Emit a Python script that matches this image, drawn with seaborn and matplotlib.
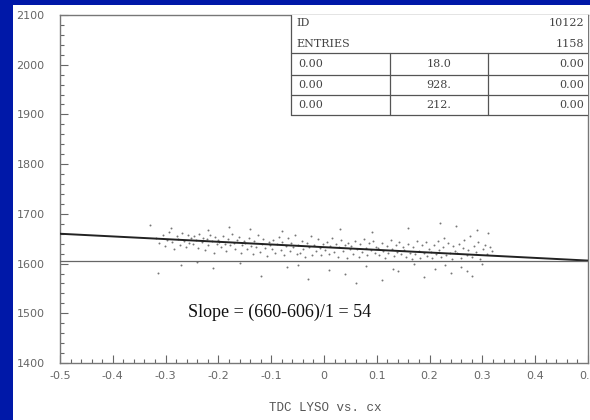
import matplotlib
matplotlib.use("Agg")
import matplotlib.pyplot as plt
from matplotlib.patches import Rectangle
from matplotlib.ticker import MultipleLocator, FixedLocator
import pandas as pd
import seaborn as sns

# Event-by-event hits: TDC LYSO time against cx
hit_x = [
    -0.318, -0.312, -0.305, -0.301, -0.297, -0.293, -0.288, -0.284, -0.279, -0.276, -0.272, -0.268, -0.265, -0.262, -0.258, -0.255, -0.252,
    -0.249, -0.246, -0.243, -0.239, -0.236, -0.232, -0.229, -0.226, -0.222, -0.219, -0.216, -0.212, -0.209, -0.206, -0.203, -0.201,
    -0.198, -0.195, -0.192, -0.188, -0.185, -0.181, -0.178, -0.175, -0.171, -0.168, -0.164, -0.161, -0.158, -0.155, -0.152,
    -0.149, -0.146, -0.142, -0.139, -0.135, -0.132, -0.129, -0.125, -0.122, -0.118, -0.115, -0.112, -0.108, -0.105, -0.102,
    -0.099, -0.096, -0.092, -0.089, -0.086, -0.082, -0.079, -0.075, -0.072, -0.069, -0.065, -0.062, -0.058, -0.055, -0.052,
    -0.049, -0.046, -0.042, -0.039, -0.036, -0.032, -0.029, -0.025, -0.022, -0.019, -0.015, -0.012, -0.008, -0.005, -0.002,
    0.002, 0.005, 0.009, 0.012, 0.015, 0.019, 0.022, 0.026, 0.029, 0.032, 0.036, 0.039, 0.043, 0.046, 0.049,
    0.052, 0.055, 0.059, 0.062, 0.066, 0.069, 0.072, 0.076, 0.079, 0.082, 0.086, 0.089, 0.093, 0.096, 0.099,
    0.102, 0.105, 0.109, 0.112, 0.115, 0.119, 0.122, 0.126, 0.129, 0.132, 0.136, 0.139, 0.142, 0.146, 0.149,
    0.152, 0.155, 0.159, 0.162, 0.166, 0.169, 0.172, 0.176, 0.179, 0.182, 0.186, 0.189, 0.193, 0.196, 0.199,
    0.202, 0.205, 0.208, 0.212, 0.215, 0.218, 0.222, 0.225, 0.228, 0.232, 0.235, 0.238, 0.242, 0.245, 0.248,
    0.252, 0.256, 0.259, 0.263, 0.266, 0.270, 0.273, 0.277, 0.281, 0.284, 0.288, 0.292, 0.296, 0.301, 0.305, 0.309, 0.314, 0.318,
    -0.315, -0.27, -0.21, -0.16, -0.12, -0.07, -0.03, 0.01, 0.04, 0.08, 0.11, 0.14, 0.17, 0.19, 0.21, 0.24, 0.26, 0.28, 0.30, -0.24, -0.05, 0.06, 0.13, 0.23, 0.27,
    -0.33, -0.29, -0.22, -0.14, -0.08, 0.03, 0.09, 0.16, 0.22, 0.25, 0.29, 0.31, -0.18,
]
hit_y = [
    1652, 1641, 1658, 1636, 1647, 1663, 1644, 1629, 1655, 1650, 1638, 1661, 1646, 1633, 1657, 1642, 1651,
    1639, 1656, 1647, 1631, 1660, 1643, 1652, 1627, 1649, 1637, 1658, 1645, 1621, 1653, 1640, 1648,
    1644, 1633, 1655, 1640, 1626, 1650, 1637, 1659, 1642, 1630, 1647, 1653, 1621, 1638, 1645,
    1641, 1629, 1652, 1636, 1619, 1646, 1633, 1657, 1624, 1640, 1649, 1631, 1615, 1644, 1637,
    1630, 1648, 1622, 1639, 1654, 1627, 1643, 1617, 1635, 1651, 1625, 1641, 1633, 1658, 1620,
    1637, 1621, 1646, 1629, 1614, 1642, 1633, 1655, 1618, 1638, 1626, 1649, 1631, 1617, 1640,
    1628, 1644, 1619, 1636, 1652, 1623, 1640, 1614, 1633, 1647, 1625, 1638, 1611, 1642, 1630,
    1636, 1620, 1645, 1629, 1613, 1639, 1624, 1650, 1632, 1617, 1641, 1627, 1646, 1621, 1634,
    1631, 1617, 1642, 1626, 1612, 1636, 1622, 1648, 1629, 1615, 1638, 1624, 1644, 1619, 1633,
    1627, 1614, 1640, 1622, 1610, 1634, 1619, 1646, 1625, 1612, 1637, 1621, 1643, 1616, 1630,
    1624, 1611, 1638, 1619, 1645, 1627, 1613, 1633, 1652, 1617, 1641, 1622, 1609, 1636, 1626,
    1621, 1640, 1612, 1631, 1648, 1618, 1627, 1655, 1614, 1636, 1623, 1644, 1610, 1629, 1638, 1619, 1633, 1625,
    1582, 1597, 1591, 1601, 1575, 1594, 1569, 1588, 1579, 1596, 1566, 1585, 1599, 1572, 1590, 1581, 1593, 1576, 1600, 1603, 1598, 1561, 1589, 1598, 1585,
    1678, 1672, 1668, 1670, 1666, 1669, 1664, 1671, 1682, 1676, 1668, 1662, 1674,
]

# Straight-line fit: 660 at cx=-0.5 down to 606 at cx=+0.5
fit_x = [-0.5, 0.5]
fit_y = [1660, 1606]
base_level = 1606

x_ticks = [-0.5, -0.4, -0.3, -0.2, -0.1, 0.0, 0.1, 0.2, 0.3, 0.4, 0.5]
x_tick_labels = ["-0.5", "-0.4", "-0.3", "-0.2", "-0.1", "0", "0.1", "0.2", "0.3", "0.4", "0.5"]
y_ticks = [1400, 1500, 1600, 1700, 1800, 1900, 2000, 2100]

# Statistics box contents
stat_id = "10122"
stat_entries = "1158"
stat_rows = [("0.00", "18.0", "0.00"),
             ("0.00", "928.", "0.00"),
             ("0.00", "212.", "0.00")]

slope_text = "Slope = (660-606)/1 = 54"
x_title = "TDC LYSO vs. cx"

sns.set_style("ticks")
plt.rcParams["font.family"] = ["DejaVu Sans"]

W, H = 590, 420
fig = plt.figure(figsize=(W / 100, H / 100), dpi=100, facecolor="#0018a8")
fig.add_artist(Rectangle((13 / W, 0), (W - 13) / W, (H - 5) / H,
                         transform=fig.transFigure, facecolor="white",
                         edgecolor="none", zorder=-1))

ax = fig.add_axes([60 / W, 57 / H, 528 / W, 348 / H])
ax.set_facecolor("white")

hits = pd.DataFrame({"cx": hit_x, "tdc": hit_y})
sns.scatterplot(data=hits, x="cx", y="tdc", ax=ax, s=2, color="#555555",
                linewidth=0, alpha=0.8, zorder=2)

fit = pd.DataFrame({"cx": fit_x, "tdc": fit_y})
sns.lineplot(data=fit, x="cx", y="tdc", ax=ax, color="#222222",
             linewidth=1.4, zorder=3)
ax.axhline(base_level, color="#666666", linewidth=0.9, zorder=3)

ax.set_xlabel("")
ax.set_ylabel("")

ax.xaxis.set_major_locator(FixedLocator(x_ticks))
ax.set_xticklabels(x_tick_labels)
ax.xaxis.set_minor_locator(MultipleLocator(0.02))
ax.yaxis.set_major_locator(FixedLocator(y_ticks))
ax.yaxis.set_minor_locator(MultipleLocator(20))
ax.set_xlim(-0.5, 0.5)
ax.set_ylim(1400, 2100)

ax.tick_params(which="both", direction="in", top=False, right=False,
               color="#666666", width=0.8, labelcolor="#666666")
ax.tick_params(which="major", length=6, labelsize=8)
ax.tick_params(which="minor", length=3)
ax.tick_params(axis="y", which="major", pad=11)
ax.tick_params(axis="x", which="major", pad=6)

for sp in ax.spines.values():
    sp.set_color("#777777")
    sp.set_linewidth(1.0)
    sp.set_visible(True)

# Statistics box, drawn in axes fractions
px = lambda x: (x - 60) / 528
py = lambda y: (363 - y) / 348
box_kw = dict(transform=ax.transAxes, color="#555555", linewidth=0.9, zorder=4)
x0, xa, xb, x1 = px(291), px(390), px(488), 1.0
ax.add_patch(Rectangle((x0, py(115)), x1 - x0, 1 - py(115),
                       transform=ax.transAxes, facecolor="white",
                       edgecolor="none", zorder=3.5))
ax.plot([x0, x0], [py(115), 1], **box_kw)
for yy in (53, 75, 95, 115):
    ax.plot([x0, x1], [py(yy), py(yy)], **box_kw)
for xx in (xa, xb):
    ax.plot([xx, xx], [py(115), py(53)], **box_kw)

txt_kw = dict(transform=ax.transAxes, fontsize=8, color="#444444",
              family="DejaVu Serif", va="center", zorder=5)
ax.text(px(296), py(23), "ID", ha="left", **txt_kw)
ax.text(px(584), py(23), stat_id, ha="right", **txt_kw)
ax.text(px(296), py(44), "ENTRIES", ha="left", **txt_kw)
ax.text(px(584), py(44), stat_entries, ha="right", **txt_kw)
for (a, b, c), yy in zip(stat_rows, (64, 85, 105)):
    ax.text(px(298), py(yy), a, ha="left", **txt_kw)
    ax.text(px(439), py(yy), b, ha="center", **txt_kw)
    ax.text(px(584), py(yy), c, ha="right", **txt_kw)

ax.text(px(188), py(312), slope_text, transform=ax.transAxes,
        fontsize=13, family="Liberation Serif", color="#111111",
        ha="left", va="center", zorder=5)

fig.text(325 / W, (H - 408) / H, x_title, fontsize=9,
         family="Liberation Mono", color="#555555", ha="center", va="center")

fig.savefig("out.png", dpi=100, facecolor=fig.get_facecolor())
